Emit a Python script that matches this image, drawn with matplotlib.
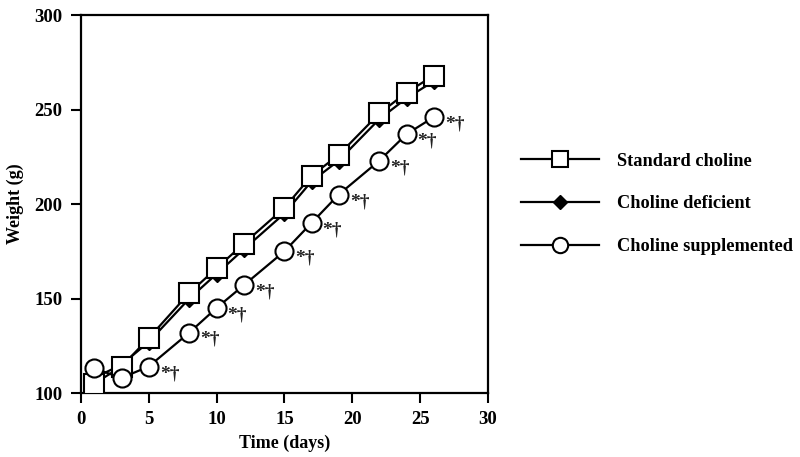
import matplotlib
matplotlib.use("Agg")
import matplotlib.pyplot as plt

days = [1, 3, 5, 8, 10, 12, 15, 17, 19, 22, 24, 26]
standard = [105, 114, 129, 153, 166, 179, 198, 215, 226, 248, 259, 268]
deficient = [108, 115, 127, 150, 163, 176, 195, 212, 223, 245, 256, 265]
supplemented = [113, 108, 114, 132, 145, 157, 175, 190, 205, 223, 237, 246]
sig_days = [5, 8, 10, 12, 15, 17, 19, 22, 24, 26]
sig_label = "*\u2020"

xticks = [0, 5, 10, 15, 20, 25, 30]
yticks = [100, 150, 200, 250, 300]

plt.rcParams['font.family'] = ['Liberation Serif', 'DejaVu Serif']
plt.rcParams['font.weight'] = 'bold'

fig = plt.figure(figsize=(8, 4.57), dpi=100)
ax = fig.add_axes([0.101, 0.140, 0.509, 0.827])

lw = 1.6
l2, = ax.plot(days, deficient, color='black', lw=lw, marker='D', markersize=8,
              markerfacecolor='black', markeredgecolor='black', label='Choline deficient', zorder=3)
l1, = ax.plot(days, standard, color='black', lw=lw, marker='s', markersize=14,
              markerfacecolor='white', markeredgecolor='black', markeredgewidth=1.5,
              label='Standard choline', zorder=4)
l3, = ax.plot(days, supplemented, color='black', lw=lw, marker='o', markersize=13,
              markerfacecolor='white', markeredgecolor='black', markeredgewidth=1.5,
              label='Choline supplemented', zorder=4)

for d in sig_days:
    v = supplemented[days.index(d)]
    ax.annotate(sig_label, (d, v), xytext=(8, -5), textcoords='offset points',
                fontsize=14, fontweight='bold', ha='left', va='center', color='#222222')

ax.set_xlim(0, 30)
ax.set_ylim(100, 300)
ax.set_xticks(xticks)
ax.set_yticks(yticks)
ax.tick_params(direction='out', length=7, width=1.5, pad=6, labelsize=13.5,
               top=False, right=False)
for lab in ax.get_xticklabels() + ax.get_yticklabels():
    lab.set_fontweight('bold')
for s in ax.spines.values():
    s.set_linewidth(1.6)
ax.set_xlabel('Time (days)', fontsize=13, fontweight='bold', labelpad=5)
ax.set_ylabel('Weight (g)', fontsize=13, fontweight='bold', labelpad=8)

leg = fig.legend(handles=[l1, l2, l3], loc='upper left', bbox_to_anchor=(0.631, 0.702),
                 frameon=False, handlelength=4.25, labelspacing=1.4, fontsize=13.2,
                 handletextpad=0.98, markerscale=0.85)
for t in leg.get_texts():
    t.set_fontweight('bold')

fig.savefig('out.png', dpi=100)
